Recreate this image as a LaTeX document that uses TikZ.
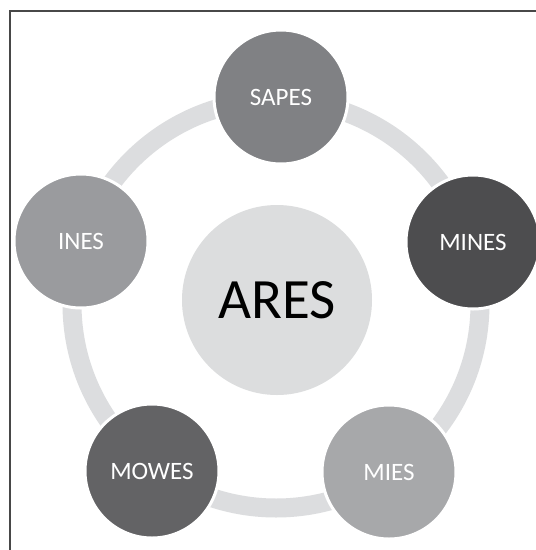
\documentclass[tikz,border=0pt]{standalone}
\usepackage{fontspec}
\setmainfont{Carlito}
\definecolor{ringgray}{HTML}{DCDDDF}
\definecolor{aresgray}{HTML}{DCDDDE}
\definecolor{sapesgray}{HTML}{808184}
\definecolor{minesgray}{HTML}{4D4D4F}
\definecolor{miesgray}{HTML}{A7A8AA}
\definecolor{mowesgray}{HTML}{636365}
\definecolor{inesgray}{HTML}{9A9B9E}
\definecolor{framegray}{HTML}{484848}
\tikzset{
  outer/.style={circle, draw=white, line width=3pt, minimum size=134pt, inner sep=0pt,
    text=white, font=\fontsize{25}{29}\selectfont},
  center/.style={circle, fill=aresgray, minimum size=190pt, inner sep=0pt,
    text=black, font=\fontsize{57}{64}\selectfont},
  ring/.style={draw=ringgray, line width=19pt},
  frame/.style={draw=framegray, line width=1.5pt}
}
\begin{document}
\begin{tikzpicture}[x=1pt,y=-1pt]
\useasboundingbox (0,0) rectangle (536,550);
\fill[white] (0,0) rectangle (536,550);
\coordinate (fb) at (10,551);
\coordinate (fc) at (10,11);
\coordinate (fr) at (537,11);
\draw[frame] (fb) -- (fc) -- (fr);
\coordinate (mid) at (276,304);
\draw[ring] (mid) circle[radius=204];
\node[center] (ares) at (277,300) {ARES};
\node[outer, fill=sapesgray] (sapes) at (281,97) {SAPES};
\node[outer, fill=minesgray] (mines) at (473,242) {MINES};
\node[outer, fill=miesgray] (mies) at (389,472) {MIES};
\node[outer, fill=mowesgray] (mowes) at (152,471) {MOWES};
\node[outer, fill=inesgray] (ines) at (81,241) {INES};
\end{tikzpicture}
\end{document}
